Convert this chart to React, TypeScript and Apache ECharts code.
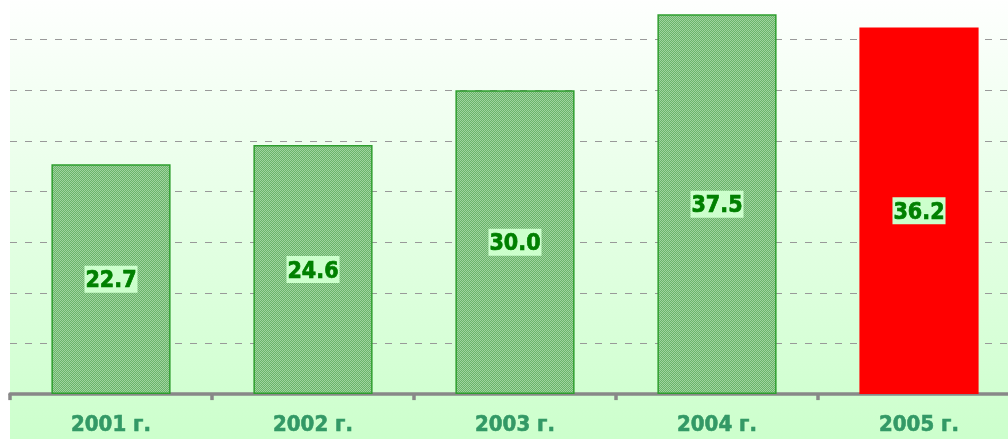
import React, { useEffect, useRef } from "react";
import * as echarts from "echarts";

const categories = ["2001 г.", "2002 г.", "2003 г.", "2004 г.", "2005 г."];
const values = [22.7, 24.6, 30.0, 37.5, 36.2];
const highlightIndex = 4;

function makePattern(): HTMLCanvasElement | null {
  try {
    const c = document.createElement("canvas");
    c.width = 4;
    c.height = 4;
    const ctx = c.getContext("2d");
    if (!ctx) return null;
    ctx.fillStyle = "#9fd49f";
    ctx.fillRect(0, 0, 4, 4);
    ctx.fillStyle = "#6ab46a";
    for (let i = 0; i < 4; i++) {
      ctx.fillRect(i, i, 1, 1);
      ctx.fillRect((i + 2) % 4, i, 1, 1);
    }
    return c;
  } catch (e) {
    return null;
  }
}

export default function App() {
  const ref = useRef<HTMLDivElement>(null);
  useEffect(() => {
    if (!ref.current) return;
    const chart = echarts.init(ref.current, undefined, { renderer: "svg" });
    const pat = makePattern();
    const greenFill: any = pat ? { image: pat, repeat: "repeat" } : "#80c080";
    chart.setOption({
      animation: false,
      graphic: [
        {
          type: "rect",
          z: -100,
          shape: { x: 10, y: 0, width: 1020, height: 450 },
          style: {
            fill: new echarts.graphic.LinearGradient(0, 0, 0, 1, [
              { offset: 0, color: "#ffffff" },
              { offset: 1, color: "#ccffcc" },
            ]),
          },
          silent: true,
        },
      ],
      grid: { left: 10, right: 0, top: 0, bottom: 44.9 },
      xAxis: {
        type: "category",
        data: categories,
        axisLine: { lineStyle: { color: "#888888", width: 3.5 } },
        axisTick: { show: true, length: 6, lineStyle: { color: "#888888", width: 3.5 } },
        axisLabel: {
          color: "#339966",
          fontFamily: "DejaVu Sans Condensed",
          fontWeight: "bold",
          fontSize: 22,
          margin: 18,
          textBorderColor: "#339966",
          textBorderWidth: 0.6,
        },
      },
      yAxis: {
        type: "value",
        min: 0,
        max: 40,
        interval: 5,
        axisLabel: { show: false },
        axisLine: { show: false },
        axisTick: { show: false },
        splitLine: { lineStyle: { color: "#999999", type: [7, 8], width: 1.2 } },
      },
      series: [
        {
          type: "bar",
          barWidth: "59%",
          data: values.map((v, i) =>
            i === highlightIndex
              ? { value: v, itemStyle: { color: "#ff0000", borderColor: "#ff0000", borderWidth: 0 } }
              : { value: v, itemStyle: { color: greenFill, borderColor: "#2e9e2e", borderWidth: 1.5 } }
          ),
          label: {
            show: true,
            position: "inside",
            formatter: (p: any) => Number(p.value).toFixed(1),
            color: "#008000",
            fontFamily: "DejaVu Sans Condensed",
            fontWeight: "bold",
            fontSize: 23,
            textBorderColor: "#008000",
            textBorderWidth: 0.7,
            backgroundColor: "#ccffcc",
            padding: [3, 1, 1, 1],
          },
        },
      ],
    });
    return () => chart.dispose();
  }, []);
  return (
    <div
      ref={ref}
      style={{ position: "fixed", left: 0, top: -11, width: 1020, height: 450 }}
    />
  );
}
